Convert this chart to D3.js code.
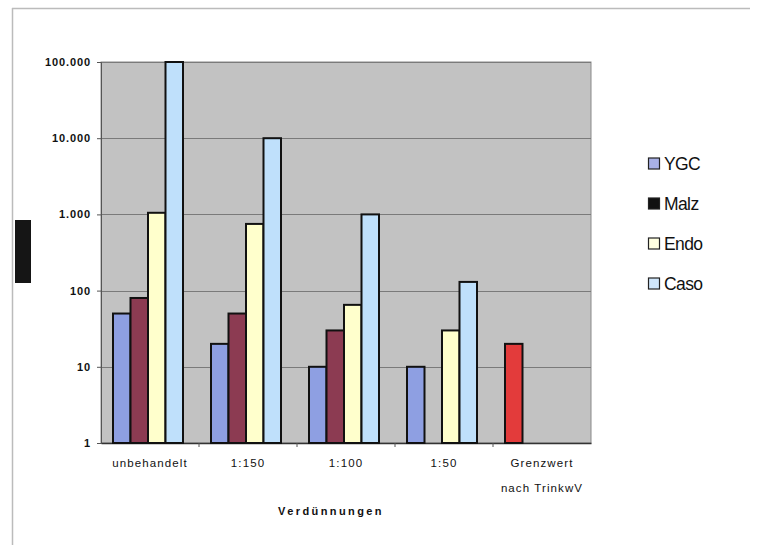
<!DOCTYPE html>
<html>
<head>
<meta charset="utf-8">
<script src="https://cdn.jsdelivr.net/npm/d3@7"></script>
<style>
  html, body { margin: 0; padding: 0; background: #fff; }
  svg { display: block; font-family: Arial, "Liberation Sans", sans-serif; }
</style>
</head>
<body>
<svg id="chart" width="761" height="545"></svg>
<script>
// Verdünnungsreihe: Keimzahlen je Nährboden (log-Skala)
const categories = ["unbehandelt", "1:150", "1:100", "1:50", "Grenzwert"];
const seriesNames = ["YGC", "Malz", "Endo", "Caso"];
const ygc  = [50, 20, 10, 10, 20];
const malz = [80, 50, 30, null, null];
const endo = [1050, 750, 65, 30, null];
const caso = [100000, 10000, 1000, 130, null];
const yTicks = [1, 10, 100, 1000, 10000, 100000];
const yTickLabels = ["1", "10", "100", "1.000", "10.000", "100.000"];

const seriesValues = [ygc, malz, endo, caso];
const fills = ["#8e9fe2", "#8c3b52", "#ffffcc", "#bfe0fb"];
const legendFills = ["#a8b0e6", "#111111", "#ffffe0", "#cfe6fb"];
const limitFill = "#e33b3b";

const svg = d3.select("#chart");

// outer frame (top and left edges)
svg.append("line").attr("x1", 12).attr("x2", 750).attr("y1", 8.5).attr("y2", 8.5)
  .attr("stroke", "#bbbbbb").attr("stroke-width", 1.5);
svg.append("line").attr("x1", 12.5).attr("x2", 12.5).attr("y1", 8).attr("y2", 545)
  .attr("stroke", "#bbbbbb").attr("stroke-width", 1.5);

// black marker block at left
svg.append("rect").attr("x", 15).attr("y", 220).attr("width", 16).attr("height", 63).attr("fill", "#151515");

const plot = { left: 101, top: 62, right: 591, bottom: 443 };

const x = d3.scaleBand().domain(categories).range([plot.left, plot.right]).paddingInner(0).paddingOuter(0);
const inner = d3.scaleBand().domain(seriesNames).range([12, x.bandwidth() - 16]).padding(0);
const y = d3.scaleLog().domain([1, 100000]).range([plot.bottom, plot.top]);

// plot background
svg.append("rect").attr("x", plot.left).attr("y", plot.top)
  .attr("width", plot.right - plot.left).attr("height", plot.bottom - plot.top)
  .attr("fill", "#c2c2c2").attr("stroke", "#8a8a8a").attr("stroke-width", 1);

// gridlines
svg.append("g").selectAll("line").data(yTicks.slice(1)).join("line")
  .attr("x1", plot.left).attr("x2", plot.right)
  .attr("y1", d => Math.round(y(d)) + 0.5).attr("y2", d => Math.round(y(d)) + 0.5)
  .attr("stroke", "#7a7a7a").attr("stroke-width", 1);

// y axis
const yAxis = d3.axisLeft(y).tickValues(yTicks)
  .tickFormat((d, i) => yTickLabels[i]).tickSize(4).tickPadding(6);
const gy = svg.append("g").attr("transform", `translate(${plot.left},0)`).call(yAxis);
gy.select(".domain").attr("stroke", "#555");
gy.selectAll(".tick line").attr("stroke", "#555");
gy.selectAll(".tick text").attr("font-size", 11).attr("font-weight", "bold")
  .attr("letter-spacing", 0.9)
  .attr("fill", "#111").attr("font-family", "Arial, 'Liberation Sans', sans-serif");

// x axis
const xAxis = d3.axisBottom(x).tickSize(0).tickFormat(() => "");
const gx = svg.append("g").attr("transform", `translate(0,${plot.bottom})`).call(xAxis);
gx.select(".domain").attr("stroke", "#333").attr("stroke-width", 1.5);
// group separator ticks
svg.append("g").selectAll("line").data(categories.slice(1)).join("line")
  .attr("x1", d => x(d)).attr("x2", d => x(d))
  .attr("y1", plot.bottom).attr("y2", plot.bottom + 4)
  .attr("stroke", "#555");

// bars
const barsData = [];
categories.forEach((c, ci) => {
  seriesNames.forEach((s, si) => {
    const v = seriesValues[si][ci];
    if (v != null) barsData.push({ c, s, si, v, limit: c === "Grenzwert" });
  });
});
svg.append("g").selectAll("rect").data(barsData).join("rect")
  .attr("x", d => x(d.c) + inner(d.s))
  .attr("y", d => y(d.v))
  .attr("width", inner.bandwidth())
  .attr("height", d => y(1) - y(d.v))
  .attr("fill", d => d.limit ? limitFill : fills[d.si])
  .attr("stroke", "#111").attr("stroke-width", 2);

// category labels
const labelG = svg.append("g").attr("font-size", 11.5).attr("fill", "#111")
  .attr("text-anchor", "middle").attr("letter-spacing", 1.1);
categories.forEach(c => {
  const cx = x(c) + x.bandwidth() / 2;
  if (c === "Grenzwert") {
    labelG.append("text").attr("x", cx).attr("y", 467).text("Grenzwert");
    labelG.append("text").attr("x", cx).attr("y", 492).text("nach TrinkwV");
  } else {
    labelG.append("text").attr("x", cx).attr("y", 467).text(c);
  }
});

// axis title
svg.append("text").attr("x", 331).attr("y", 515).attr("text-anchor", "middle")
  .attr("font-size", 11).attr("font-weight", "bold").attr("letter-spacing", 2.4)
  .attr("fill", "#111").text("Verdünnungen");

// legend
const legend = svg.append("g").attr("transform", "translate(648,0)");
seriesNames.forEach((s, i) => {
  const cy = 164 + i * 40;
  legend.append("rect").attr("x", 0.5).attr("y", cy - 6).attr("width", 11).attr("height", 11)
    .attr("fill", legendFills[i]).attr("stroke", "#222").attr("stroke-width", 1.2);
  legend.append("text").attr("x", 16).attr("y", cy + 6)
    .attr("font-size", 17.5).attr("fill", "#111").attr("letter-spacing", -0.6).text(s);
});
</script>
</body>
</html>
